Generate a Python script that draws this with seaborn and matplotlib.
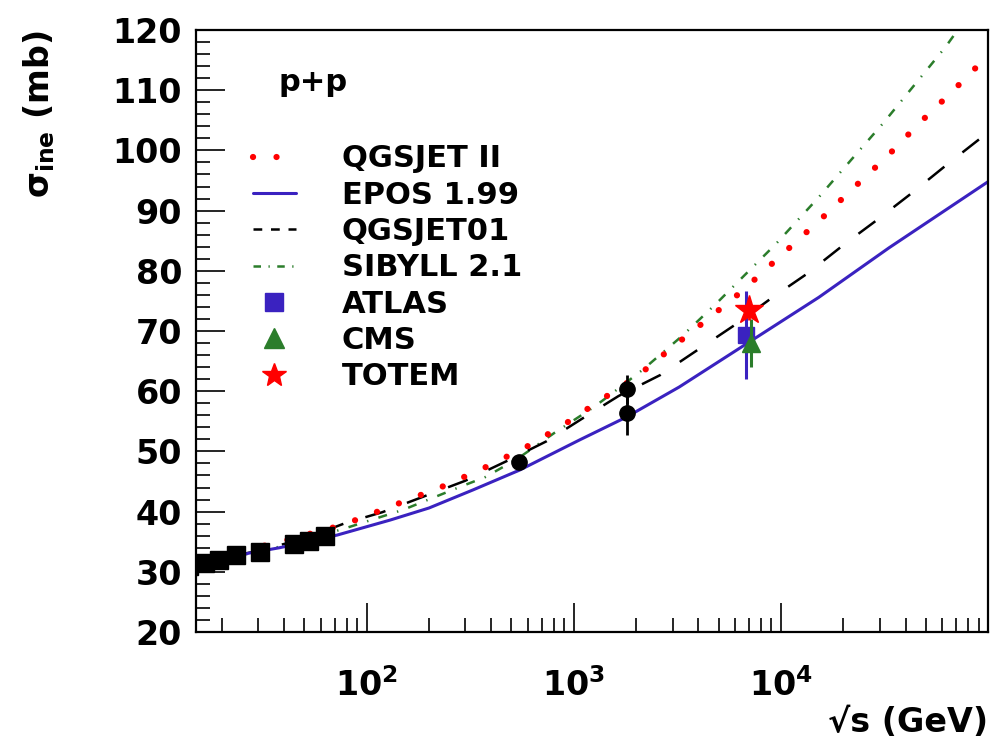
import numpy as np
import pandas as pd
import seaborn as sns
import matplotlib.pyplot as plt
from matplotlib.lines import Line2D
from matplotlib.ticker import MultipleLocator, LogLocator, NullFormatter

# model curves: sqrt(s) in GeV, sigma_inel in mb
qgs2_E = [15, 37.5, 77, 121, 242, 376, 587, 893, 1345, 2028, 2992, 4365, 6430,
          9270, 15950, 22950, 32780, 46200, 65900, 91900, 100000]
qgs2_sig = [31.6, 34.9, 37.8, 40.4, 44.4, 47.4, 50.7, 54.4, 58.5, 62.5, 67.3, 71.8, 76.5,
            81.5, 88.9, 94.1, 99.1, 104.4, 109.5, 114.5, 115.5]

epos_E = [15, 20, 27, 38, 72, 130, 200, 326, 548, 1066, 1795, 3230, 15250, 33200, 100000]
epos_sig = [31.2, 32.0, 33.1, 34.0, 36.1, 38.6, 40.6, 43.6, 46.9, 51.9, 55.7, 60.7, 75.6, 83.8, 94.8]

qgs01_E = [15, 30, 50, 79, 119, 298, 475, 740, 1128, 1645, 2620, 3900, 5870, 8870,
           13360, 20400, 29000, 42800, 63100, 100000]
qgs01_sig = [31.3, 33.5, 35.5, 38.1, 39.9, 45.1, 48.4, 51.7, 55.7, 59.2, 62.7, 66.7, 70.8, 75.3,
             79.5, 84.5, 88.4, 92.9, 97.6, 103.0]

sib_E = [15, 30, 50, 80, 150, 282, 372, 531, 808, 1230, 1435, 2140, 3340, 4920, 7250,
         9480, 15300, 21800, 31300, 44200, 62400, 69700, 80000]
sib_sig = [31.4, 33.3, 35.2, 37.3, 40.3, 44.1, 45.7, 48.7, 53.1, 57.2, 58.9, 63.5, 69.2, 74.7, 80.5,
           84.5, 92.3, 98.4, 104.6, 110.9, 117.2, 119.5, 122.0]

# measurements
low_E = [13.8, 16.6, 19.4, 23.5, 30.6, 44.7, 52.8, 62.7]
low_sig = [30.9, 31.4, 31.9, 32.8, 33.3, 34.6, 35.1, 35.9]
ppbar_E = [546, 1800, 1800]
ppbar_sig = [48.3, 60.3, 56.3]
ppbar_err = [0.9, 2.4, 3.6]
atlas_E, atlas_sig, atlas_err = [6800], [69.4], [7.3]
cms_E, cms_sig, cms_err = [7200], [68.0], [4.0]
totem_E, totem_sig, totem_err = [7000], [73.5], [1.6]

xtick_vals = [100, 1000, 10000]
xtick_labels = [r"$\mathbf{10^{2}}$", r"$\mathbf{10^{3}}$", r"$\mathbf{10^{4}}$"]

RED, BLUE, GREEN = "#ff0000", "#3a22c0", "#2b7d2b"

sns.set_theme(style="ticks")
plt.rcParams['font.family'] = ['DejaVu Sans']
plt.rcParams['font.weight'] = 'bold'
plt.rcParams['text.color'] = 'black'
plt.rcParams['axes.labelcolor'] = 'black'
plt.rcParams['xtick.color'] = 'black'
plt.rcParams['ytick.color'] = 'black'
plt.rcParams['mathtext.fontset'] = 'custom'
plt.rcParams['mathtext.rm'] = 'DejaVu Sans'
plt.rcParams['mathtext.bf'] = 'DejaVu Sans:bold'

fig = plt.figure(figsize=(9.91, 7.41), dpi=100)
ax = fig.add_axes([0.1978, 0.1471, 0.7992, 0.8124])

dot_ls = (0, (0.01, 3.75))
dash_ls = (0, (8.4, 9.2))
dashdot_ls = (0, (3.6, 4.2, 0.55, 4.2))

sns.lineplot(x=sib_E, y=sib_sig, ax=ax, color=GREEN, lw=1.8, linestyle=dashdot_ls,
             errorbar=None, sort=False)
sns.lineplot(x=qgs01_E, y=qgs01_sig, ax=ax, color="black", lw=1.8, linestyle=dash_ls,
             errorbar=None, sort=False)
sns.lineplot(x=epos_E, y=epos_sig, ax=ax, color=BLUE, lw=2.2, errorbar=None, sort=False)
sns.lineplot(x=qgs2_E, y=qgs2_sig, ax=ax, color=RED, lw=4.5, linestyle=dot_ls,
             dash_capstyle="round", errorbar=None, sort=False)

ax.errorbar(low_E, low_sig, fmt="s", color="black", ms=13, zorder=5)
ax.errorbar(ppbar_E, ppbar_sig, yerr=ppbar_err, fmt="o", color="black", ms=11,
            elinewidth=2, capsize=0, zorder=5)
ax.errorbar(atlas_E, atlas_sig, yerr=atlas_err, fmt="s", color=BLUE, ms=12,
            elinewidth=2.2, capsize=0, zorder=6)
ax.errorbar(cms_E, cms_sig, yerr=cms_err, fmt="^", color=GREEN, ms=13,
            elinewidth=2.2, capsize=0, zorder=7)
ax.errorbar(totem_E, totem_sig, yerr=totem_err, fmt="*", color=RED, ms=21,
            elinewidth=2, capsize=0, zorder=8)

ax.set_xscale("log")
ax.set_xlim(15, 1e5)
ax.set_ylim(20, 120)
ax.set_xticks(xtick_vals)
ax.set_xticklabels(xtick_labels)
ax.xaxis.set_minor_locator(LogLocator(base=10, subs=np.arange(2, 10)))
ax.xaxis.set_minor_formatter(NullFormatter())
ax.yaxis.set_major_locator(MultipleLocator(10))
ax.yaxis.set_minor_locator(MultipleLocator(2))

ax.tick_params(which="both", direction="in", colors="black", labelsize=24)
ax.tick_params(which="major", length=21, width=1.2)
ax.tick_params(which="minor", length=10, width=1.2)
ax.tick_params(axis="y", pad=10)
ax.tick_params(axis="x", pad=26)
for lab in ax.get_yticklabels():
    lab.set_fontweight("bold")
for sp in ax.spines.values():
    sp.set_linewidth(1.6)
    sp.set_color("black")

ax.set_ylabel(r"$\mathrm{σ}_{\mathrm{ine}}$ (mb)", fontsize=24, fontweight="bold",
              loc="top", labelpad=40)
ax.set_xlabel("√s (GeV)", fontsize=24, fontweight="bold", loc="right", labelpad=2)

ax.text(0.104, 0.913, "p+p", transform=ax.transAxes, fontsize=22, fontweight="bold",
        va="center", ha="left")

handles = [
    Line2D([], [], color=RED, lw=4.5, linestyle=dot_ls, dash_capstyle="round"),
    Line2D([], [], color=BLUE, lw=2.2),
    Line2D([], [], color="black", lw=1.8, linestyle=(0, (3.5, 3.5))),
    Line2D([], [], color=GREEN, lw=1.8, linestyle=(0, (3.0, 3.0, 0.5, 3.0))),
    Line2D([], [], color=BLUE, marker="s", ms=13, ls="none"),
    Line2D([], [], color=GREEN, marker="^", ms=14, ls="none"),
    Line2D([], [], color=RED, marker="*", ms=18, ls="none"),
]
labels = ["QGSJET II", "EPOS 1.99", "QGSJET01", "SIBYLL 2.1", "ATLAS", "CMS", "TOTEM"]
ax.legend(handles, labels, loc="upper left", bbox_to_anchor=(0.072, 0.81),
          frameon=False, handlelength=1.4, handletextpad=1.5,
          labelspacing=0.24, borderpad=0, borderaxespad=0, labelcolor="black",
          prop={"weight": "bold", "size": 22})

fig.savefig("out.png", dpi=100)
